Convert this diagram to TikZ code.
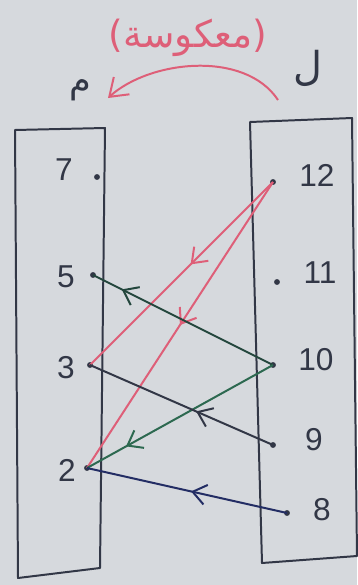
\documentclass[tikz,border=0pt]{standalone}
\usepackage{fontspec}
\setmainfont{Liberation Sans}
\newfontfamily\arabicfont[Script=Arabic]{DejaVu Sans}
\TeXXeTstate=1
\usepackage{tikz}
\usetikzlibrary{arrows.meta, decorations.markings}
\definecolor{paper}{RGB}{214,217,221}
\definecolor{ink}{RGB}{50,55,70}
\definecolor{pinkred}{RGB}{222,95,120}
\definecolor{inkgreen}{RGB}{45,105,80}
\definecolor{darkgreen}{RGB}{35,70,60}
\definecolor{navy}{RGB}{35,45,100}

\begin{document}
\begin{tikzpicture}[x=0.03cm, y=-0.03cm,
        elem/.style={circle, fill=ink, inner sep=0pt, minimum size=5pt},
        num/.style={font=\fontsize{27}{30}\selectfont, text=ink},
        link/.style={line width=1.7pt, postaction={decorate}, decoration={markings, mark=at position #1 with {\arrow{Straight Barb[length=4mm, width=6mm, line width=1.7pt]}}}},
        box/.style={draw=ink, line width=1.7pt, line join=round}]
        \fill[paper] (0,0) rectangle (357,585);

        % heading
        \node[text=pinkred, font=\arabicfont\fontsize{32}{36}\selectfont] (title) at (188,38) {\beginR(معكوسة)\endR};
        \node[num, font=\arabicfont\fontsize{30}{34}\selectfont] (tm) at (80,90) {\beginR م\endR};
        \node[num, font=\arabicfont\fontsize{34}{38}\selectfont] (tl) at (308,68) {\beginR ل\endR};
        \coordinate (arcA) at (278,100);
        \coordinate (arcB) at (108,98);
        \draw[pinkred, line width=1.7pt, -{Straight Barb[length=5mm, width=7mm, line width=1.7pt]}] (arcA) .. controls (245,50) and (150,60) .. (arcB);

        % left box (m)
        \draw[box] (15,130) -- (105,128) -- (100,568) -- (18,578) -- cycle;
        \node[elem] (m7) at (97,177) {}; \node[num] (t7) at (64,170) {7};
        \node[elem] (m5) at (93,275) {}; \node[num] (t5) at (66,277) {5};
        \node[elem] (m3) at (90,365) {}; \node[num] (t3) at (66,368) {3};
        \node[elem] (m2) at (87,468) {}; \node[num] (t2) at (67,470) {2};

        % right box (l)
        \draw[box] (250,122) -- (352,118) -- (357,556) -- (262,563) -- cycle;
        \node[elem] (l12) at (273,182) {}; \node[num] (t12) at (317,175) {12};
        \node[elem] (l11) at (277,282) {}; \node[num] (t11) at (320,273) {11};
        \node[elem] (l10) at (273,365) {}; \node[num] (t10) at (316,360) {10};
        \node[elem] (l9) at (273,445) {}; \node[num] (t9) at (314,440) {9};
        \node[elem] (l8) at (287,513) {}; \node[num] (t8) at (322,510) {8};

        % pairs
        \draw[link=0.45, pinkred] (l12.center) -- (m3.center);
        \draw[link=0.5, pinkred] (l12.center) -- (m2.center);
        \draw[link=0.84, darkgreen] (l10.center) -- (m5.center);
        \draw[link=0.79, inkgreen] (l10.center) -- (m2.center);
        \draw[link=0.42, ink] (l9.center) -- (m3.center);
        \draw[link=0.48, navy] (l8.center) -- (m2.center);
\end{tikzpicture}
\end{document}
